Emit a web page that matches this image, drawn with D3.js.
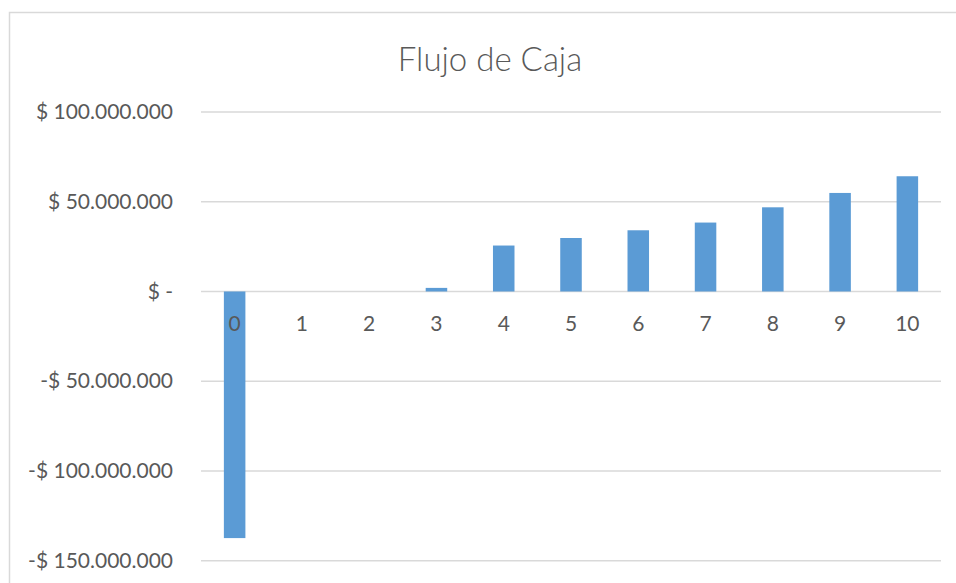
<!DOCTYPE html>
<html>
<head>
<meta charset="utf-8">
<script src="https://cdn.jsdelivr.net/npm/d3@7"></script>
<style>
  body { margin: 0; background: #fff; }
  text { font-family: Lato, "Open Sans", sans-serif; fill: #595959; }
</style>
</head>
<body>
<script>
// chart data
const periods = ["0", "1", "2", "3", "4", "5", "6", "7", "8", "9", "10"];
const flujo = [-137400000, 0, 0, 2000000, 25600000, 29800000, 34100000, 38400000, 46900000, 54900000, 64200000];
const yTicks = [100000000, 50000000, 0, -50000000, -100000000, -150000000];
const title = "Flujo de Caja";

const w = 956;
const h = 583;

let svg = d3.select("body")
  .append("svg")
  .attr("width", w)
  .attr("height", h);

// chart frame
svg.append("rect")
  .attr("x", 9.5)
  .attr("y", 12.5)
  .attr("width", 1000)
  .attr("height", 1000)
  .attr("fill", "none")
  .attr("stroke", "#d9d9d9")
  .attr("stroke-width", 1.5);

svg.append("text")
  .attr("x", 490)
  .attr("y", 71)
  .attr("text-anchor", "middle")
  .style("font-size", "33px")
  .style("font-weight", "300")
  .text(title);

let xScale = d3.scaleBand()
  .domain(periods)
  .range([201, 941])
  .paddingInner(0.68)
  .paddingOuter(0.34);

let yScale = d3.scaleLinear()
  .domain([-150000000, 100000000])
  .range([560.7, 112]);

// format like Excel accounting: $ 100.000.000
function fmt(v) {
  if (v == 0) return "$ -";
  const s = d3.format(",")(Math.abs(v)).replace(/,/g, ".");
  return (v < 0 ? "-$ " : "$ ") + s;
}

// gridlines
svg.append("g")
  .selectAll("line")
  .data(yTicks)
  .enter()
  .append("line")
  .attr("x1", 201)
  .attr("x2", 941)
  .attr("y1", d => yScale(d))
  .attr("y2", d => yScale(d))
  .attr("stroke", "#d9d9d9")
  .attr("stroke-width", 1.5);

// y axis labels
let yAxis = d3.axisLeft(yScale)
  .tickValues(yTicks)
  .tickFormat(fmt)
  .tickSize(0)
  .tickPadding(0);

let yG = svg.append("g")
  .attr("transform", "translate(173,0)")
  .call(yAxis);
yG.select(".domain").remove();
yG.selectAll("text")
  .style("font-size", "21px")
  .style("font-family", "Lato, sans-serif")
  .attr("fill", "#595959");

// bars
svg.append("g")
  .selectAll("rect")
  .data(flujo)
  .enter()
  .append("rect")
  .attr("x", (d, i) => xScale(periods[i]))
  .attr("width", xScale.bandwidth())
  .attr("y", d => yScale(Math.max(0, d)))
  .attr("height", d => Math.abs(yScale(d) - yScale(0)))
  .attr("fill", "#5b9bd5");

// x axis labels, drawn at the zero line
let xAxis = d3.axisBottom(xScale)
  .tickSize(0)
  .tickPadding(40);

let xG = svg.append("g")
  .attr("transform", "translate(0," + yScale(0) + ")")
  .call(xAxis);
xG.select(".domain").remove();
xG.selectAll("text")
  .style("font-size", "21px")
  .style("font-family", "Lato, sans-serif")
  .attr("fill", "#595959")
  .attr("dy", "0");
</script>
</body>
</html>
